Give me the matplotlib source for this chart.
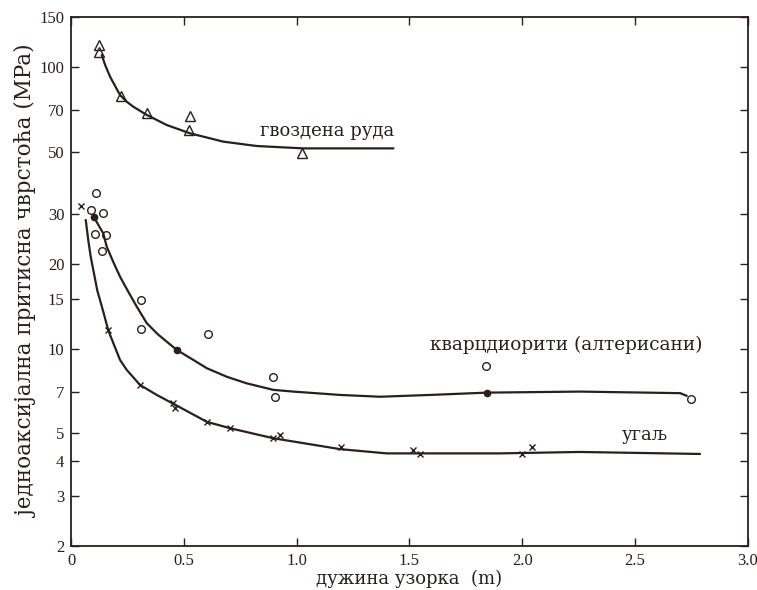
import matplotlib.pyplot as plt
from matplotlib.ticker import FixedLocator, FixedFormatter, NullLocator

plt.rcParams['font.family'] = ['Liberation Serif', 'DejaVu Serif']

ink = '#2a1f1c'
label_font = ['DejaVu Serif']

# гвоздена руда - measurements and fitted curve
iron_x = [0.125, 0.125, 0.219, 0.335, 0.527, 0.524, 1.022]
iron_y = [119, 113, 78.8, 68.3, 66.9, 59.6, 49.5]
iron_fit_x = [0.135, 0.150, 0.172, 0.216, 0.246, 0.275, 0.335, 0.379, 0.423, 0.527, 0.615, 0.674, 0.823, 1.029, 1.266, 1.429]
iron_fit_y = [110, 101.4, 92.1, 79.3, 75.1, 72.1, 67.4, 64.7, 62.1, 58.0, 55.7, 54.2, 52.3, 51.3, 51.3, 51.3]

# кварцдиорити (алтерисани)
dior_x = [0.110, 0.086, 0.139, 0.104, 0.154, 0.136, 0.308, 0.308, 0.607, 0.896, 0.904, 1.840, 2.748]
dior_y = [35.7, 31.0, 30.2, 25.5, 25.2, 22.2, 14.85, 11.75, 11.3, 7.94, 6.75, 8.7, 6.6]
dior_on_x = [0.101, 0.467, 1.843]
dior_on_y = [29.2, 9.9, 6.97]
dior_fit_x = [0.101, 0.142, 0.157, 0.186, 0.216, 0.253, 0.290, 0.335, 0.386, 0.468, 0.541, 0.601, 0.689,
              0.778, 0.896, 0.985, 1.192, 1.370, 1.592, 1.843, 2.257, 2.701, 2.730]
dior_fit_y = [29.2, 25.6, 23.0, 20.3, 18.0, 15.9, 14.1, 12.3, 11.2, 9.89, 9.12, 8.52, 7.95,
              7.53, 7.14, 7.04, 6.85, 6.75, 6.85, 6.98, 7.04, 6.95, 6.8]

# угаљ
coal_x = [0.043, 0.164, 0.305, 0.450, 0.460, 0.601, 0.704, 0.896, 0.926, 1.195, 1.517, 1.547, 1.998, 2.043]
coal_y = [32.1, 11.6, 7.43, 6.39, 6.15, 5.5, 5.22, 4.81, 4.95, 4.49, 4.37, 4.23, 4.22, 4.47]
coal_fit_x = [0.064, 0.075, 0.086, 0.115, 0.142, 0.164, 0.216, 0.246, 0.305, 0.379, 0.450, 0.601, 0.704,
              0.896, 1.192, 1.399, 1.532, 1.902, 2.256, 2.789]
coal_fit_y = [28.6, 24.3, 21.2, 16.1, 13.5, 11.6, 9.12, 8.4, 7.43, 6.85, 6.39, 5.5, 5.22,
              4.81, 4.40, 4.25, 4.25, 4.25, 4.30, 4.23]

x_ticks = [0, 0.5, 1.0, 1.5, 2.0, 2.5, 3.0]
x_labels = ['0', '0.5', '1.0', '1.5', '2.0', '2.5', '3.0']
y_ticks = [2, 3, 4, 5, 7, 10, 15, 20, 30, 50, 70, 100, 150]

fig = plt.figure(figsize=(7.57, 5.90), dpi=100)
ax = fig.add_axes([0.0942, 0.0751, 0.8934, 0.8961])

for fx, fy in [(iron_fit_x, iron_fit_y), (dior_fit_x, dior_fit_y), (coal_fit_x, coal_fit_y)]:
    ax.plot(fx, fy, color=ink, lw=1.6, solid_capstyle='round', solid_joinstyle='round')

ax.plot(iron_x, iron_y, ls='none', marker='^', ms=7.5, mfc='none', mec=ink, mew=1.0)
ax.plot(dior_x, dior_y, ls='none', marker='o', ms=5.5, mfc='none', mec=ink, mew=1.0)
ax.plot(dior_on_x, dior_on_y, ls='none', marker='o', ms=4.5, mfc=ink, mec=ink, mew=1.0)
ax.plot(coal_x, coal_y, ls='none', marker='x', ms=4.5, mec=ink, mew=1.0)

ax.set_yscale('log')
ax.set_xlim(0, 3.0)
ax.set_ylim(2, 150)
ax.xaxis.set_major_locator(FixedLocator(x_ticks))
ax.xaxis.set_major_formatter(FixedFormatter(x_labels))
ax.yaxis.set_major_locator(FixedLocator(y_ticks))
ax.yaxis.set_major_formatter(FixedFormatter([str(v) for v in y_ticks]))
ax.yaxis.set_minor_locator(NullLocator())
ax.tick_params(direction='in', length=6, width=1.0, top=True, right=True,
               labelsize=12, colors=ink, pad=5)
for s in ax.spines.values():
    s.set_linewidth(1.3)
    s.set_color(ink)

ax.text(0.837, 59.3, 'гвоздена руда', fontsize=13, family=label_font, color=ink, va='center', ha='left')
ax.text(1.59, 10.3, 'кварцдиорити (алтерисани)', fontsize=13.3, family=label_font, color=ink, va='center', ha='left')
ax.text(2.442, 4.95, 'угаљ', fontsize=13, family=label_font, color=ink, va='center', ha='left')

ax.set_xlabel('дужина узорка  (m)', fontsize=13, family=label_font, color=ink, labelpad=1)
ax.set_ylabel('једноаксијална притисна чврстоћа (MPa)', fontsize=15.5, family=label_font, color=ink, labelpad=1)

fig.savefig('out.png', dpi=100, facecolor='white')
